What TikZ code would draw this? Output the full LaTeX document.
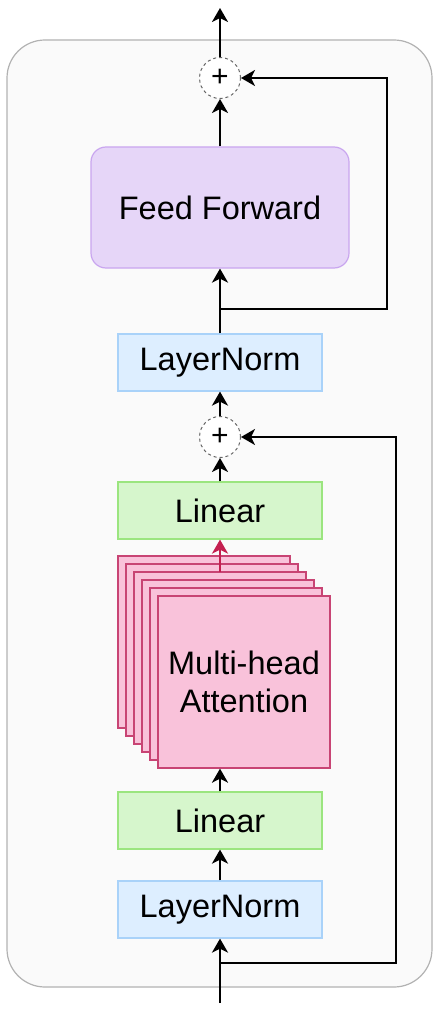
\documentclass[tikz,border=0pt]{standalone}
\usepackage{fontspec}
\setmainfont{Liberation Sans}
\usepackage{xcolor}
\usetikzlibrary{arrows.meta}

\definecolor{fffill}{HTML}{E6D6F8}
\definecolor{ffline}{HTML}{C9A6EF}
\definecolor{lnfill}{HTML}{DDEEFF}
\definecolor{lnline}{HTML}{A9D2F9}
\definecolor{linfill}{HTML}{D6F6CC}
\definecolor{linline}{HTML}{9BE57F}
\definecolor{mhafill}{HTML}{F9C2DA}
\definecolor{mhaline}{HTML}{C84474}
\definecolor{attred}{HTML}{C42050}

\begin{document}
\begin{tikzpicture}[x=1pt, y=-1pt,
    block/.style={draw, line width=1.2pt, minimum width=204pt, minimum height=57pt, inner sep=0pt, font=\fontsize{32.5}{38}\selectfont},
    normbox/.style={block, fill=lnfill, draw=lnline},
    linbox/.style={block, fill=linfill, draw=linline},
    headbox/.style={draw=mhaline, fill=mhafill, line width=1.3pt, minimum size=172pt, inner sep=0pt},
    addnode/.style={circle, draw=gray!80!black, dashed, line width=1pt, fill=white, minimum size=41pt, inner sep=0pt, font=\fontsize{30}{30}\selectfont},
    flow/.style={line width=2.8pt, -{Stealth[length=14pt, width=16pt, inset=4pt]}}]

    \useasboundingbox (0,0) rectangle (439,1024);

    % block frame
    \draw[draw=gray!60, fill=gray!4, line width=1.2pt, rounded corners=38pt] (7,40) rectangle (432,987);

    % sublayers
    \node[normbox] (ln1) at (220,909.5) {LayerNorm};
    \node[linbox] (lin1) at (220,820.5) {Linear};

    \foreach \k in {5,...,1}
        \node[headbox] (mha\k) at ({244-8*\k},{682-8*\k}) {};
    \node[headbox, align=center, font=\fontsize{32.5}{38}\selectfont] (mha) at (244,682) {Multi-head\\Attention};

    \node[linbox] (lin2) at (220,510.5) {Linear};
    \node[addnode] (add1) at (220,437) {+};
    \node[normbox] (ln2) at (220,362.5) {LayerNorm};
    \node[draw=ffline, fill=fffill, line width=1.2pt, rounded corners=15pt, minimum width=258pt, minimum height=121pt, font=\fontsize{32.5}{38}\selectfont] (ff) at (220,207.5) {Feed Forward};
    \node[addnode] (add2) at (220,78) {+};

    \coordinate (in) at (220,1003);
    \coordinate (out) at (220,8);
    \coordinate (att) at (220,572);
    \coordinate (split1) at (220,963);
    \coordinate (turn1) at (396,963);
    \coordinate (split2) at (220,309);
    \coordinate (turn2) at (387,309);

    % main path
    \draw[flow] (in) -- (ln1);
    \draw[flow] (ln1) -- (lin1);
    \draw[flow] (lin1) -- (lin1.north |- mha.south);
    \draw[flow, color=attred] (att) -- (lin2);
    \draw[flow] (lin2) -- (add1);
    \draw[flow] (add1) -- (ln2);
    \draw[flow] (ln2) -- (ff);
    \draw[flow] (ff) -- (add2);
    \draw[flow] (add2) -- (out);

    % residuals
    \draw[flow] (split1) -- (turn1) |- (add1);
    \draw[flow] (split2) -- (turn2) |- (add2);

\end{tikzpicture}
\end{document}
